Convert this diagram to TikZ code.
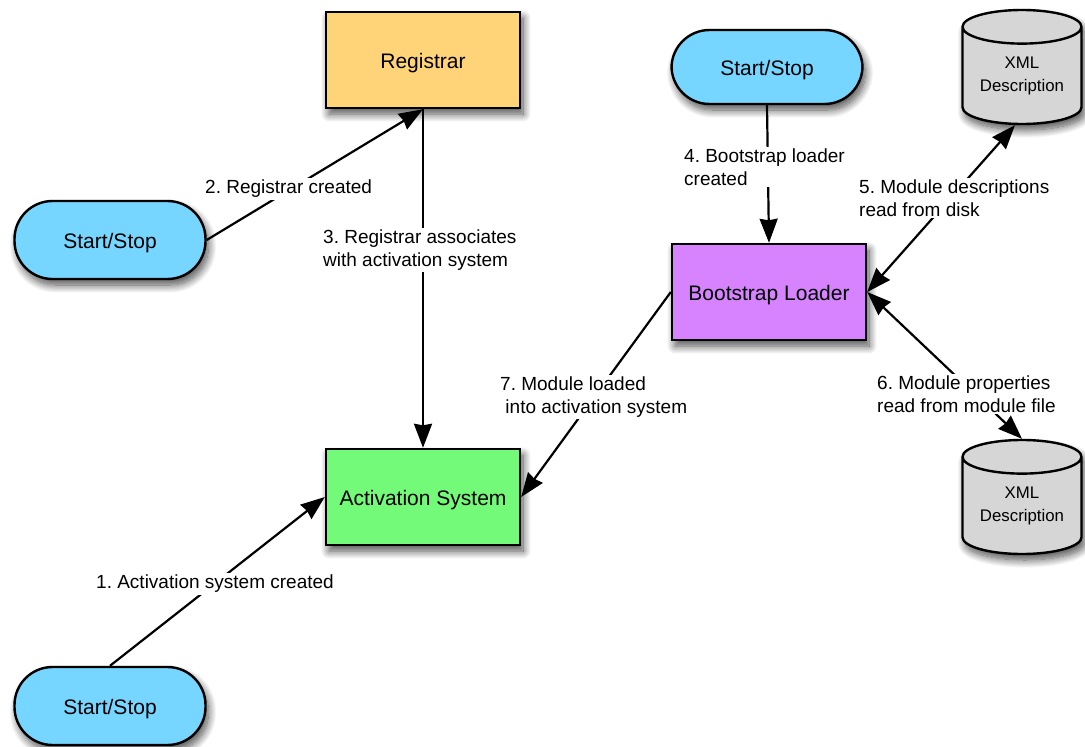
\documentclass[tikz,border=0pt]{standalone}
\usepackage{fontspec}
\setmainfont{Liberation Sans}
\frenchspacing
\usetikzlibrary{arrows.meta,shapes.geometric,shadows.blur}
\definecolor{cantaloupe}{HTML}{FFD479}
\definecolor{sky}{HTML}{76D6FF}
\definecolor{lavender}{HTML}{D783FF}
\definecolor{flora}{HTML}{73FA79}
\definecolor{silver}{HTML}{D6D6D6}
\begin{document}
\begin{tikzpicture}[x=1pt,y=-1pt,
  shadowed/.style={blur shadow={shadow xshift=3pt,shadow yshift=-6pt,shadow blur steps=14,shadow blur radius=8pt,shadow opacity=70}},
  bigtext/.style={font=\fontsize{21}{25}\selectfont,text height=22pt,text depth=4.4pt},
  procbox/.style={draw=black,line width=2.4pt,shadowed,minimum width=194pt,minimum height=96pt,inner sep=0pt,bigtext},
  terminal/.style={draw=black,line width=2.4pt,shadowed,fill=sky,rounded corners=38pt,minimum width=191pt,minimum height=78pt,inner sep=0pt,bigtext},
  store/.style={cylinder,shape border rotate=90,aspect=0.4,draw=black,line width=2.4pt,shadowed,fill=silver,
    minimum width=119pt,minimum height=114pt,inner sep=0pt,align=center,
    font=\fontsize{16.8}{23}\selectfont},
  note/.style={fill=white,align=left,anchor=west,inner sep=2pt,font=\fontsize{19}{22.8}\selectfont},
  link/.style={line width=2.2pt,-{Stealth[length=24pt,width=18pt,inset=1.5pt]}},
  duplex/.style={line width=2.2pt,{Stealth[length=24pt,width=18pt,inset=1.5pt]}-{Stealth[length=24pt,width=18pt,inset=1.5pt]}}
]
\useasboundingbox (0,0) rectangle (1085,747);

% process boxes
\node[procbox,fill=cantaloupe] (reg) at (423,60) {Registrar};
\node[procbox,fill=flora] (act) at (423,497) {Activation System};
\node[procbox,fill=lavender] (boot) at (769,292) {Bootstrap Loader};

% start/stop terminals
\node[terminal] (ssA) at (110,240) {Start/Stop};
\node[terminal] (ssB) at (110,706) {Start/Stop};
\node[terminal,minimum height=74pt] (ssC) at (767,67) {Start/Stop};

% data stores
\node[store] (xmlA) at (1022,76) {XML\\Description};
\node[store] (xmlB) at (1022,506) {XML\\Description};

% connectors
\coordinate (xmlAin) at ([xshift=-7pt]xmlA.south);
\draw[link] (ssB.north) -- (act.west);
\draw[link] (ssA.east) -- (reg.south);
\draw[link] (reg.south) -- (act.north);
\draw[link] (ssC.south) -- (boot.north);
\draw[duplex] (boot.east) -- (xmlAin);
\draw[duplex] (boot.east) -- (xmlB.north);
\draw[link] (boot.west) -- (act.east);

% connector labels
\node[note] (l1) at (94,584) {1. Activation system created};
\node[note] (l2) at (203,189) {2. Registrar created};
\node[note] (l3) at (321,250) {3. Registrar associates\\with activation system};
\node[note] (l4) at (682,167) {4. Bootstrap loader\\created};
\node[note] (l5) at (857,198) {5. Module descriptions\\read from disk};
\node[note] (l6) at (875,394) {6. Module properties\\read from module file};
\node[note] (l7) at (498,397) {7. Module loaded\\\ into activation system};
\end{tikzpicture}
\end{document}
